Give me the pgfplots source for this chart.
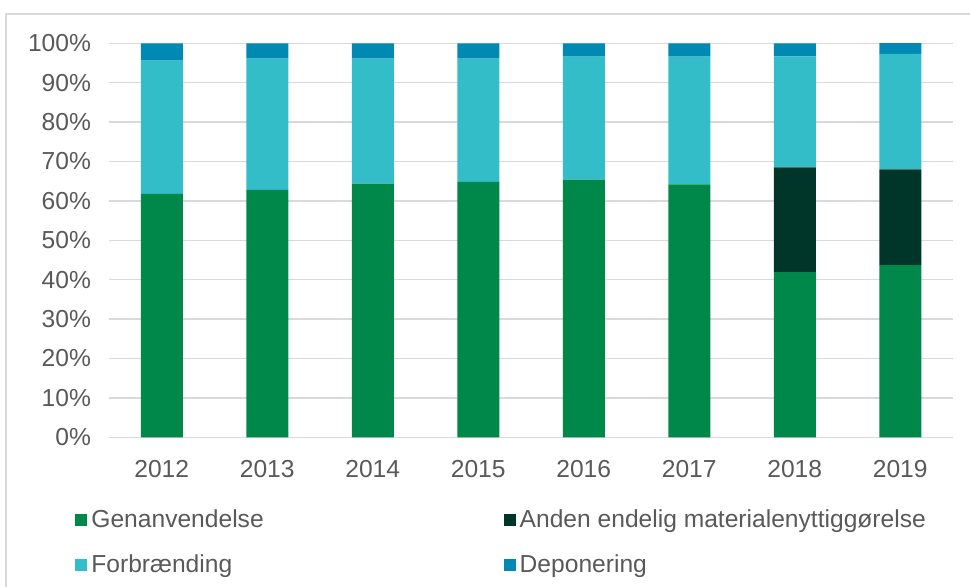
\documentclass[border=0pt]{standalone}
\usepackage{pgfplots}
\pgfplotsset{compat=1.18}
\usepackage{fontspec}
\setmainfont{Liberation Sans}

\definecolor{genanv}{HTML}{00884A}
\definecolor{anden}{HTML}{00352A}
\definecolor{forbr}{HTML}{33BDC8}
\definecolor{depon}{HTML}{0089B3}
\definecolor{txt}{HTML}{595959}
\definecolor{gridc}{HTML}{D9D9D9}

\begin{document}
\begin{tikzpicture}
  \path[use as bounding box] (0,0) rectangle (485pt,293.5pt);
  \draw[gridc, line width=0.6pt] (3pt,-5pt) -- (3pt,286.5pt) -- (490pt,286.5pt);
  \begin{axis}[
      at={(54.5pt,74.85pt)}, anchor=south west,
      scale only axis,
      width=422pt, height=197pt,
      ybar stacked,
      bar width=21pt,
      xmin=-0.5, xmax=7.5,
      ymin=0, ymax=100,
      xtick=data,
      xticklabels={2012,2013,2014,2015,2016,2017,2018,2019},
      ytick={0,10,...,100},
      yticklabel={\pgfmathprintnumber{\tick}\%},
      /pgf/number format/assume math mode=true,
      ticklabel style={font=\fontsize{12.3}{14}\selectfont, text=txt},
      xticklabel style={yshift=-8pt},
      yticklabel style={xshift=-5.5pt},
      major tick length=0pt,
      axis line style={draw=none},
      ymajorgrids,
      grid style={gridc, line width=0.75pt},
      legend columns=2,
      legend cell align=left,
      legend style={
        at={(rel axis cs:0,0)}, anchor=north west,
        xshift=-20pt, yshift=-32pt,
        draw=none, fill=none,
        font=\fontsize{12.3}{14}\selectfont, text=txt,
        row sep=8pt,
        /tikz/every even column/.append style={column sep=118pt},
      },
      legend image code/.code={\fill[#1] (0pt,-3pt) rectangle (6pt,3pt);},
    ]
    \addplot+[fill=genanv, draw=none] coordinates {(0,61.8) (1,62.8) (2,64.4) (3,64.8) (4,65.4) (5,64.2) (6,41.9) (7,43.7)};
    \addplot+[fill=anden, draw=none] coordinates {(0,0) (1,0) (2,0) (3,0) (4,0) (5,0) (6,26.6) (7,24.3)};
    \addplot+[fill=forbr, draw=none] coordinates {(0,33.8) (1,33.3) (2,31.7) (3,31.3) (4,31.2) (5,32.4) (6,28.2) (7,29.3)};
    \addplot+[fill=depon, draw=none] coordinates {(0,4.4) (1,3.9) (2,3.9) (3,3.9) (4,3.4) (5,3.4) (6,3.3) (7,3.0)};
    \legend{Genanvendelse, Anden endelig materialenyttiggørelse, Forbrænding, Deponering}
  \end{axis}
\end{tikzpicture}
\end{document}
